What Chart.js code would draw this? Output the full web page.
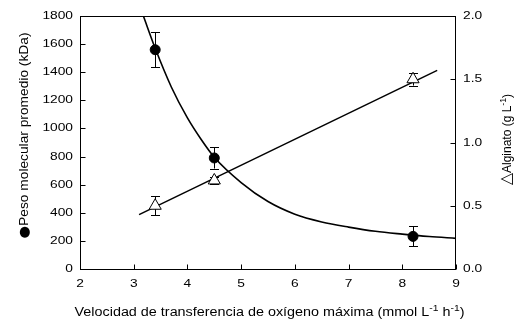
<!DOCTYPE html>
<html>
<head>
<meta charset="utf-8">
<script src="https://cdn.jsdelivr.net/npm/chart.js@4/dist/chart.umd.min.js"></script>
<style>
  html, body { margin: 0; padding: 0; background: #fff; }
  canvas { display: block; }
</style>
</head>
<body>
<canvas id="chart" width="514" height="321"></canvas>
<script>
'use strict';

// ── Data ─────────────────────────────────────────────────────────────────────
const ovtrMax      = [3.4, 4.5, 8.2];          // mmol L-1 h-1
const pesoMolec    = [1560, 790, 232];         // kDa
const pesoErr      = [125, 75, 71];
const alginato     = [0.50, 0.70, 1.50];       // g L-1
const alginatoErr  = [0.077, 0.03, 0.05];

// fitted curves as drawn in the figure
const curvaX       = [3.18, 3.4, 3.7, 4.0, 4.25, 4.5, 5.0, 5.5, 6.0, 6.5, 7.0, 7.5, 8.0, 8.5, 9.0];
const curvaPeso    = [1800, 1570, 1295, 1075, 925, 795, 615, 480, 390, 335, 298, 268, 248, 231, 218];
const rectaX       = [3.1, 8.65];
const rectaAlg     = [0.43, 1.57];

const xTicks  = [2, 3, 4, 5, 6, 7, 8, 9];
const yTicks  = [0, 200, 400, 600, 800, 1000, 1200, 1400, 1600, 1800];
const y2Ticks = [0, 0.5, 1.0, 1.5, 2.0];

const FONT = '"Liberation Sans", Arial, sans-serif';
const SYM  = '"DejaVu Sans", sans-serif';
const INK  = '#000';

// ── Helpers ──────────────────────────────────────────────────────────────────

const pts = (xs, ys) => xs.map((x, i) => ({ x, y: ys[i] }));

// draw text made of parts ({t, sup, font, scale}), optionally rotated and stretched along its run
function drawParts(ctx, parts, x, y, { size, sx = 1, angle = 0, align = 'center', baseline = 'alphabetic' }) {
  ctx.save();
  ctx.translate(x, y);
  ctx.rotate(angle);
  ctx.scale(sx, 1);
  ctx.fillStyle = INK;
  ctx.textBaseline = baseline;
  ctx.textAlign = 'left';
  const fontOf = p => `${size * (p.sup ? 0.72 : (p.scale || 1))}px ${p.font || FONT}`;
  let w = 0;
  for (const p of parts) { ctx.font = fontOf(p); w += ctx.measureText(p.t).width; }
  let cx = align === 'center' ? -w / 2 : align === 'right' ? -w : 0;
  for (const p of parts) {
    ctx.font = fontOf(p);
    ctx.fillText(p.t, cx, p.sup ? -size * 0.4 : 0);
    cx += ctx.measureText(p.t).width;
  }
  ctx.restore();
}

// ── Plugins ──────────────────────────────────────────────────────────────────

const errorBars = {
  id: 'errorBars',
  beforeDatasetsDraw(chart) {
    const { ctx, scales } = chart;
    const sets = [
      { ys: pesoMolec, es: pesoErr, axis: scales.y },
      { ys: alginato, es: alginatoErr, axis: scales.y2 },
    ];
    ctx.save();
    ctx.strokeStyle = INK;
    ctx.lineWidth = 1;
    for (const s of sets) {
      ovtrMax.forEach((xv, i) => {
        const px = Math.round(scales.x.getPixelForValue(xv)) + 0.5;
        const top = s.axis.getPixelForValue(s.ys[i] + s.es[i]);
        const bot = s.axis.getPixelForValue(s.ys[i] - s.es[i]);
        ctx.beginPath();
        ctx.moveTo(px, top); ctx.lineTo(px, bot);
        ctx.moveTo(px - 4.5, Math.round(top) + 0.5); ctx.lineTo(px + 4.5, Math.round(top) + 0.5);
        ctx.moveTo(px - 4.5, Math.round(bot) + 0.5); ctx.lineTo(px + 4.5, Math.round(bot) + 0.5);
        ctx.stroke();
      });
    }
    ctx.restore();
  },
};

const frameAndText = {
  id: 'frameAndText',
  afterDraw(chart) {
    const { ctx, chartArea: a, scales } = chart;
    const L = Math.round(a.left) + 0.5, R = Math.round(a.right) - 0.5;
    const T = Math.round(a.top) + 0.5,  B = Math.round(a.bottom) + 0.5;

    ctx.save();
    ctx.strokeStyle = INK;
    ctx.lineWidth = 1;
    ctx.strokeRect(L, T, R - L, B - T);

    // inward tick marks
    ctx.beginPath();
    for (const v of xTicks) {
      const px = Math.round(scales.x.getPixelForValue(v)) + 0.5;
      ctx.moveTo(px, B); ctx.lineTo(px, B - 5);
    }
    for (const v of yTicks) {
      const py = Math.round(scales.y.getPixelForValue(v)) + 0.5;
      ctx.moveTo(L, py); ctx.lineTo(L + 5, py);
    }
    for (const v of y2Ticks) {
      const py = Math.round(scales.y2.getPixelForValue(v)) + 0.5;
      ctx.moveTo(R, py); ctx.lineTo(R - 5, py);
    }
    ctx.stroke();
    ctx.restore();

    // tick labels
    const tick = { size: 11, sx: 1.25, baseline: 'middle' };
    for (const v of xTicks) {
      drawParts(ctx, [{ t: String(v) }], scales.x.getPixelForValue(v), 283.5, { ...tick, align: 'center' });
    }
    for (const v of yTicks) {
      drawParts(ctx, [{ t: String(v) }], 73, scales.y.getPixelForValue(v), { ...tick, align: 'right' });
    }
    for (const v of y2Ticks) {
      drawParts(ctx, [{ t: v.toFixed(1) }], 463, scales.y2.getPixelForValue(v), { ...tick, align: 'left' });
    }

    // axis titles
    drawParts(ctx, [
      { t: 'Velocidad de transferencia de oxígeno máxima (mmol L' },
      { t: '-1', sup: true },
      { t: ' h' },
      { t: '-1', sup: true },
      { t: ')' },
    ], 269.5, 316, { size: 12.5, sx: 1.15 });

    drawParts(ctx, [
      { t: '●', font: SYM, scale: 1.05 },
      { t: 'Peso molecular promedio (kDa)' },
    ], 28, 135.5, { size: 12.5, sx: 1.1, angle: -Math.PI / 2 });

    drawParts(ctx, [
      { t: '△', font: SYM, scale: 1.3 },
      { t: 'Alginato (g L' },
      { t: '-1', sup: true },
      { t: ')' },
    ], 510.5, 139.5, { size: 12.5, sx: 0.96, angle: -Math.PI / 2 });
  },
};

// ── Chart ────────────────────────────────────────────────────────────────────

new Chart(document.getElementById('chart'), {
  type: 'scatter',
  data: {
    datasets: [
      {
        label: 'Peso molecular',
        data: pts(ovtrMax, pesoMolec),
        yAxisID: 'y',
        pointStyle: 'circle',
        pointRadius: 5,
        borderWidth: 1,
        borderColor: INK,
        backgroundColor: INK,
        showLine: false,
      },
      {
        label: 'Alginato',
        data: pts(ovtrMax, alginato),
        yAxisID: 'y2',
        pointStyle: 'triangle',
        pointRadius: 7,
        borderWidth: 1,
        borderColor: INK,
        backgroundColor: '#fff',
        showLine: false,
      },
      {
        label: 'Ajuste peso',
        data: pts(curvaX, curvaPeso),
        yAxisID: 'y',
        showLine: true,
        pointRadius: 0,
        borderColor: INK,
        borderWidth: 1.6,
        cubicInterpolationMode: 'monotone',
      },
      {
        label: 'Ajuste alginato',
        data: pts(rectaX, rectaAlg),
        yAxisID: 'y2',
        showLine: true,
        pointRadius: 0,
        borderColor: INK,
        borderWidth: 1.5,
      },
    ],
  },
  options: {
    responsive: false,
    animation: false,
    devicePixelRatio: 1,
    layout: { padding: { top: 16, left: 0, right: 0, bottom: 0 } },
    plugins: { legend: { display: false }, tooltip: { enabled: false } },
    scales: {
      x: {
        type: 'linear', min: 2, max: 9,
        ticks: { stepSize: 1, display: false },
        grid: { display: false }, border: { display: false },
        afterFit: s => { s.height = 52; },
      },
      y: {
        position: 'left', min: 0, max: 1800,
        ticks: { stepSize: 200, display: false },
        grid: { display: false }, border: { display: false },
        afterFit: s => { s.width = 80; },
      },
      y2: {
        position: 'right', min: 0, max: 2,
        ticks: { stepSize: 0.5, display: false },
        grid: { display: false }, border: { display: false },
        afterFit: s => { s.width = 58; },
      },
    },
  },
  plugins: [errorBars, frameAndText],
});
</script>
</body>
</html>
